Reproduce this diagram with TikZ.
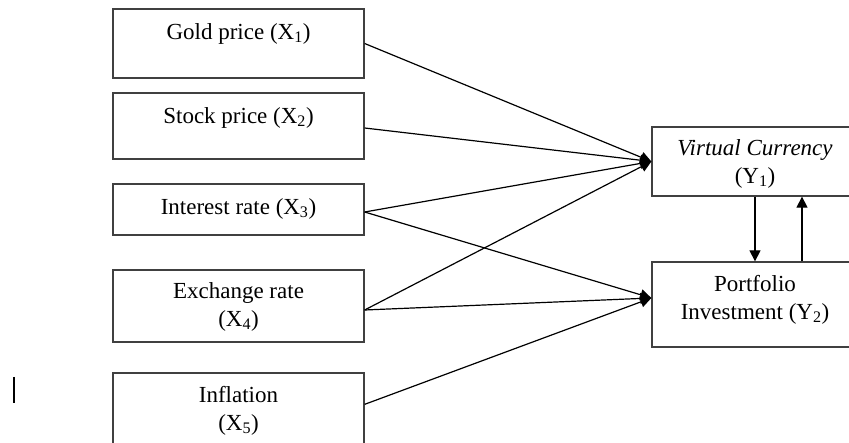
\documentclass[tikz,border=0pt]{standalone}
\usepackage{fontspec}
\setmainfont{Liberation Serif}
\usetikzlibrary{arrows.meta,calc}

\tikzset{every picture/.style={line width=1pt}}
\tikzset{
	var box/.style={draw={rgb, 255:red, 64; green, 64; blue, 64}, line width=1.3pt, inner sep=0pt},
	var text/.style={inner sep=0pt, align=center, font=\fontsize{23}{28}\selectfont},
	path arrow/.style={-{Triangle[length=11pt,width=11pt]}, line width=1.2pt}}

\begin{document}
\begin{tikzpicture}[x=1pt,y=1pt,yscale=-1,xscale=1]
	\useasboundingbox (0,0) rectangle (849,443);
	\clip (0,0) rectangle (849,443);
	
	%Shape: Rectangle [left column]
	\node [var box, minimum width=251pt, minimum height=69pt] (gold) at (238.5,43.5) {};
	\node [var box, minimum width=251pt, minimum height=66pt] (stock) at (238.5,126) {};
	\node [var box, minimum width=251pt, minimum height=51pt] (rate) at (238.5,209.5) {};
	\node [var box, minimum width=251pt, minimum height=72pt] (exch) at (238.5,306) {};
	\node [var box, minimum width=251pt, minimum height=102pt] (infl) at (238.5,424) {};
	%Shape: Rectangle [right column]
	\node [var box, minimum width=206pt, minimum height=69pt] (vc) at (755,161.5) {};
	\node [var box, minimum width=206pt, minimum height=85pt] (port) at (755,304.5) {};
	
	% Text Node
	\node [var text] (goldt) at (238.5,33.5) {Gold price (X\textsubscript{1})};
	% Text Node
	\node [var text] (stockt) at (238.5,117.5) {Stock price (X\textsubscript{2})};
	% Text Node
	\node [var text] (ratet) at (238.5,208.5) {Interest rate (X\textsubscript{3})};
	% Text Node
	\node [var text] (exacht) at (238.5,306.5) {Exchange rate\\(X\textsubscript{4})};
	% Text Node
	\node [var text] (inflt) at (238.5,410.5) {Inflation\\(X\textsubscript{5})};
	% Text Node
	\node [var text] (vct) at (755,163.5) {\textit{Virtual Currency}\\(Y\textsubscript{1})};
	% Text Node
	\node [var text] (portt) at (755,299.5) {Portfolio\\Investment (Y\textsubscript{2})};
	
	%Arrow ends
	\coordinate (vcin) at (vc.west);
	\coordinate (portin) at ($(port.west)+(0,-6.5)$);
	
	%Straight Lines
	\draw [path arrow] (gold.east) -- (vcin);
	\draw [path arrow] ($(stock.east)+(0,2)$) -- (vcin);
	\draw [path arrow] ($(rate.east)+(0,2.5)$) -- (vcin);
	\draw [path arrow] ($(rate.east)+(0,2.5)$) -- (portin);
	\draw [path arrow] ($(exch.east)+(0,4)$) -- (vcin);
	\draw [path arrow] ($(exch.east)+(0,4)$) -- (portin);
	\draw [path arrow] ($(infl.north east)+(0,32)$) -- (portin);
	%Straight Lines [between Y]
	\draw [path arrow] (vc.south) -- (vc.south |- port.north);
	\draw [path arrow] ($(port.north)+(47,0)$) -- ($(vc.south)+(47,0)$);
	
	%Straight Lines [cursor]
	\draw [line width=2pt] (14,377) -- (14,403);
	
\end{tikzpicture}
\end{document}
